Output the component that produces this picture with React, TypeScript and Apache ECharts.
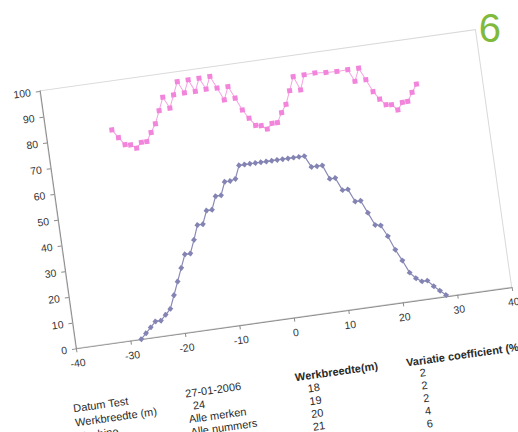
import React, { useEffect, useRef } from "react";
import * as echarts from "echarts";

// ---- data ----
const blueX = [-28,-27,-26,-25,-24,-23,-22,-21,-20,-19,-18,-17,-16,-15,-14,-13,-12,-11,-10,-9,-8,-7,-6,-5,-4,-3,-2,-1,0,1,2,3,4,5,6,7,8,9,10,11,12,13,14,15,16,17,18,19,20,21,22,23,24,25,26,27,28];
const blueY = [0,2,4,6,6,8,10,15,20,25,30,30,35,40.5,40.5,45.5,45.5,50.5,50.5,55.5,55.5,56,61,61,61,61,61,61,61,61,61,61,61,61,61,56.5,56.5,56.5,51,51,46,46,41,41,36,31,30.5,26,20.5,16,11,8.5,7,7,4.5,2.5,0.5];
const pinkX = [-28,-27,-26,-25,-24,-23,-22,-21,-20,-19,-18,-17,-16,-15,-14,-13,-12,-11,-10,-9,-8,-7,-6,-5,-4,-3,-2,-1,0,1,2,3,4,5,6,7,8,10,12,14,16,17,18,19,20,21,22,23,24,25,26,27,28];
const pinkY = [81.3,78,75,74.6,73,75,75,78.2,81.3,86.1,91,86.5,91.3,96.2,91.5,96.3,91.5,96.3,91.8,96.4,91.6,86.7,91.6,86.8,81.9,78.4,75.3,74.9,73.3,75.2,75.2,78.8,81.7,86.7,91.9,86.4,92,92.1,91.7,91.5,91.6,86.8,91.6,86.8,81.9,78.7,76.2,75.9,73.6,76.2,76.3,79.5,82.4];

const infoLabels = ["Datum Test", "Werkbreedte (m)", "Machine"];
const infoValues = ["27-01-2006", "24", "Alle merken", "Alle nummers"];
const widthHeader = "Werkbreedte(m)";
const cvHeader = "Variatie coefficient (%)";
const widths = ["18", "19", "20", "21", "22"];
const cvValues = ["2", "2", "2", "4", "6"];
const pageNumber = "6";

// ---- layout (frame coordinates, frame rotated -8deg by CSS) ----
const FW = 620;
const FH = 560;
const GL = 100;
const GT = 120;
const GW = 440;
const GH = 260;
const OX = GL;
const OY = GT + GH;
const ROW0 = 59;
const ROWH = 12.9;
const FONT = "'Liberation Sans', Arial, sans-serif";

function txt(text: string, x: number, y: number, align: string, bold = false, size = 11) {
  return {
    type: "text",
    x,
    y,
    silent: true,
    style: {
      text,
      fill: "#2a2a2a",
      fontSize: size,
      fontFamily: FONT,
      fontWeight: bold ? "bold" : "normal",
      align,
      verticalAlign: "middle",
      textAlign: align,
      textVerticalAlign: "middle",
    },
  };
}

export default function App() {
  const ref = useRef<HTMLDivElement>(null);

  useEffect(() => {
    if (!ref.current) return;
    const chart = echarts.init(ref.current, undefined, { renderer: "svg", width: FW, height: FH });

    const graphics: any[] = [];
    infoLabels.forEach((t, i) => graphics.push(txt(t, OX - 11, OY + ROW0 + i * 14.3, "left")));
    infoValues.forEach((t, i) => {
      const y = OY + 60 + i * 12.9;
      if (t === "24") graphics.push(txt(t, OX + 114, y, "center"));
      else graphics.push(txt(t, OX + 102, y, "left"));
    });
    graphics.push(txt(widthHeader, OX + 213, OY + ROW0, "left", true));
    graphics.push(txt(cvHeader, OX + 325, OY + ROW0 + 1, "left", true));
    widths.forEach((t, i) => graphics.push(txt(t, OX + 230, OY + ROW0 + (i + 1) * ROWH, "center")));
    cvValues.forEach((t, i) => graphics.push(txt(t, OX + 340, OY + ROW0 + (i + 1) * ROWH, "center")));
    graphics.push({
      type: "text",
      x: 554.5,
      y: 120.8,
      rotation: (-8 * Math.PI) / 180,
      silent: true,
      style: {
        text: pageNumber,
        fill: "#80ba3c",
        fontSize: 40,
        fontFamily: FONT,
        align: "center",
        verticalAlign: "middle",
        textAlign: "center",
        textVerticalAlign: "middle",
      },
    });

    const axisCommon = {
      splitLine: { show: false },
      axisLine: { show: true, onZero: false, lineStyle: { color: "#8c8c8c", width: 1 } },
      axisTick: { show: true, length: 4, lineStyle: { color: "#8c8c8c" } },
      axisLabel: { fontSize: 10.5, color: "#333", fontFamily: FONT, margin: 9 },
    };

    chart.setOption({
      animation: false,
      backgroundColor: "#ffffff",
      grid: {
        left: GL,
        top: GT,
        width: GW,
        height: GH,
        show: true,
        borderColor: "#d9d9d9",
        borderWidth: 1,
        backgroundColor: "transparent",
      },
      xAxis: { type: "value", min: -40, max: 40, interval: 10, ...axisCommon },
      yAxis: { type: "value", min: 0, max: 100, interval: 10, ...axisCommon },
      series: [
        {
          type: "line",
          name: "pink",
          data: pinkX.map((x, i) => [x, pinkY[i]]),
          symbol: "rect",
          symbolSize: 5,
          itemStyle: { color: "#f285db" },
          lineStyle: { color: "#f5a3e4", width: 1 },
        },
        {
          type: "line",
          name: "blue",
          data: blueX.map((x, i) => [x, blueY[i]]),
          symbol: "diamond",
          symbolSize: 6,
          itemStyle: { color: "#8484b4" },
          lineStyle: { color: "#8a8ab6", width: 1.2 },
        },
      ],
      graphic: graphics,
    });

    return () => chart.dispose();
  }, []);

  return (
    <div
      style={{
        position: "fixed",
        left: 0,
        top: 0,
        width: 518,
        height: 432,
        overflow: "hidden",
        background: "#ffffff",
      }}
    >
      <div
        ref={ref}
        style={{
          position: "absolute",
          left: -75.9,
          top: -14.4,
          width: FW,
          height: FH,
          transform: "rotate(-8deg)",
          transformOrigin: "0 0",
        }}
      />
    </div>
  );
}
